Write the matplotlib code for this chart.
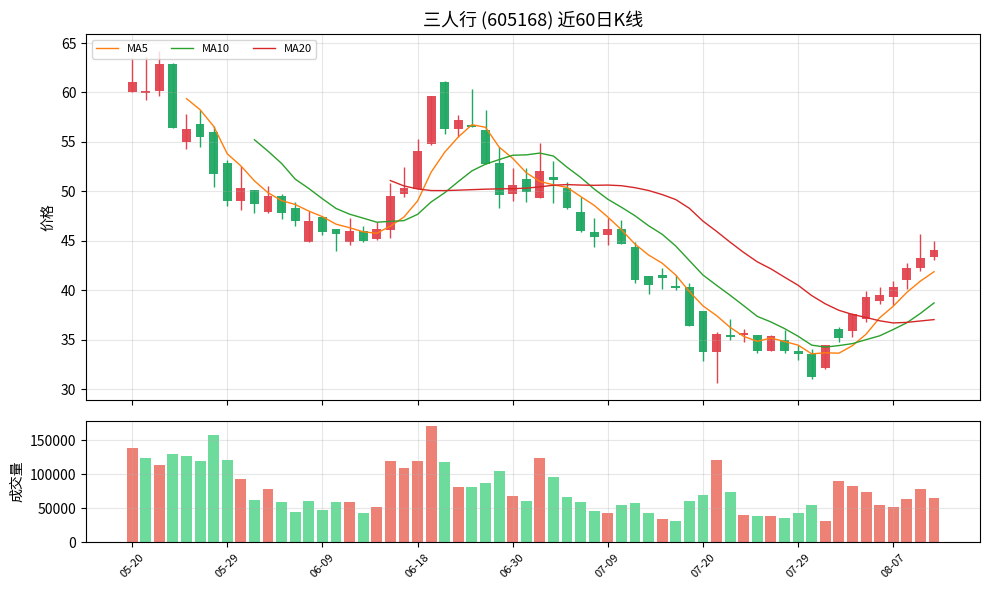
import matplotlib
matplotlib.use("Agg")
import matplotlib.pyplot as plt
import numpy as np
import pandas as pd

plt.rcParams['font.family'] = ['Noto Sans CJK SC', 'DejaVu Sans']
plt.rcParams['axes.unicode_minus'] = False

# K线数据 (近60个交易日)
dates = ['05-20', '05-21', '05-22', '05-23', '05-26', '05-27', '05-28', '05-29',
         '05-30', '06-02', '06-03', '06-04', '06-05', '06-06', '06-09',
         '06-10', '06-11', '06-12', '06-13', '06-16', '06-17', '06-18',
         '06-19', '06-20', '06-23', '06-24', '06-25', '06-26', '06-30',
         '07-01', '07-02', '07-03', '07-04', '07-07', '07-08', '07-09',
         '07-10', '07-11', '07-14', '07-15', '07-16', '07-17', '07-20',
         '07-21', '07-22', '07-23', '07-24', '07-25', '07-28', '07-29',
         '07-30', '07-31', '08-01', '08-04', '08-05', '08-06', '08-07',
         '08-08', '08-11', '08-12']

opens = [60.0, 59.9, 60.2, 62.9, 55.0, 56.8, 56.0, 52.9, 49.0, 50.1,
         47.9, 49.5, 48.3, 44.9, 47.4, 46.2, 44.9, 46.0, 45.2, 46.1,
         49.7, 50.2, 54.8, 61.1, 56.3, 56.7, 56.2, 52.9, 49.7, 51.2,
         49.3, 51.5, 50.3, 47.9, 45.9, 45.6, 46.2, 44.4, 41.4, 41.5,
         40.4, 40.3, 37.9, 33.7, 35.45, 35.43, 35.5, 33.9, 35.0, 33.85,
         33.5, 32.1, 36.1, 35.9, 37.1, 38.9, 39.3, 41.0, 42.2, 43.4]
highs = [63.5, 63.6, 64.2, 63.0, 57.8, 58.2, 56.6, 53.2, 52.6, 50.1,
         50.5, 49.7, 48.9, 48.0, 47.5, 46.2, 47.3, 46.5, 46.9, 50.8,
         52.5, 55.3, 59.6, 61.2, 57.7, 60.4, 58.2, 54.5, 52.4, 52.4,
         54.9, 53.1, 50.9, 49.4, 47.3, 47.3, 47.1, 44.9, 41.4, 42.2,
         41.5, 40.7, 37.9, 35.8, 37.1, 36.1, 35.5, 35.5, 36.0, 34.45,
         34.1, 34.5, 36.3, 37.7, 39.9, 40.3, 40.9, 42.8, 45.7, 45.0]
lows = [60.0, 59.2, 59.6, 56.4, 54.3, 54.5, 50.4, 48.5, 48.1, 47.8,
        47.8, 47.2, 46.5, 44.9, 45.6, 44.0, 44.6, 44.9, 45.1, 45.3,
        49.4, 50.2, 54.7, 55.8, 55.5, 56.5, 52.8, 48.3, 49.0, 48.9,
        49.3, 48.8, 48.2, 45.9, 44.4, 44.6, 44.7, 40.7, 39.6, 40.15,
        40.0, 36.4, 32.8, 30.6, 34.96, 34.8, 33.6, 33.9, 33.6, 32.9,
        31.05, 32.05, 34.8, 35.3, 36.8, 38.6, 38.5, 40.15, 41.9, 43.1]
closes = [61.1, 60.2, 62.9, 56.4, 56.3, 55.5, 51.8, 49.0, 50.3, 48.7,
          49.5, 47.8, 47.05, 46.95, 45.9, 45.7, 46.0, 45.0, 46.2, 49.5,
          50.3, 54.1, 59.6, 56.3, 57.2, 56.5, 52.8, 49.6, 50.6, 49.9,
          52.1, 51.1, 48.3, 46.0, 45.4, 46.2, 44.7, 41.0, 40.5, 41.25,
          40.2, 36.4, 33.7, 35.6, 35.3, 35.63, 33.9, 35.4, 33.8, 33.5,
          31.2, 34.45, 35.2, 37.6, 39.3, 39.5, 40.3, 42.2, 43.3, 44.05]
volumes = [138200, 123500, 113200, 129400, 126500, 119100, 157400, 120600, 92600, 61800,
           77900, 58800, 44100, 60300, 47100, 58800, 58800, 42600, 51500, 119100,
           108800, 119100, 170600, 117600, 80900, 80900, 86800, 104400, 67600, 60300,
           123500, 95600, 66200, 58800, 45600, 42600, 54400, 57400, 42600, 33800,
           30900, 60300, 69100, 120600, 73500, 39700, 38200, 38200, 35300, 42600,
           54400, 30900, 89700, 82400, 73500, 54400, 51500, 63200, 77900, 64700]

df = pd.DataFrame({'open': opens, 'high': highs, 'low': lows,
                   'close': closes, 'volume': volumes})
x = np.arange(len(df))

up_color = '#e2444f'
down_color = '#1fa862'

fig = plt.figure(figsize=(9.89, 5.89), dpi=100)
ax1 = fig.add_axes([0.087, 0.321, 0.904, 0.621])
ax2 = fig.add_axes([0.087, 0.0793, 0.904, 0.2065], sharex=ax1)

# 蜡烛图
is_up = df['close'] >= df['open']
candle_colors = np.where(is_up, up_color, down_color)
ax1.vlines(x, df['low'], df['high'], colors=candle_colors, linewidth=1)
body = (df['close'] - df['open']).abs().clip(lower=0.12)
ax1.bar(x, body, bottom=df[['open', 'close']].min(axis=1), width=0.65,
        color=candle_colors, alpha=0.95, linewidth=0)

# 均线
ma5 = df['close'].rolling(5).mean()
ma10 = df['close'].rolling(10).mean()
ma20 = df['close'].rolling(20).mean()
ax1.plot(x, ma5, color='#ff7f0e', linewidth=1, label='MA5')
ax1.plot(x, ma10, color='#2ca02c', linewidth=1, label='MA10')
ax1.plot(x, ma20, color='#d62728', linewidth=1, label='MA20')

ax1.set_ylim(28.9, 65.9)
ax1.set_ylabel('价格', fontsize=10)
ax1.set_title('三人行 (605168) 近60日K线', fontsize=13)
ax1.legend(loc='upper left', ncol=3, fontsize=8)
ax1.grid(True, alpha=0.3)
ax1.tick_params(labelbottom=False)

# 成交量
prev_close = df['close'].shift(1).fillna(df['open'])
vol_colors = np.where(df['close'] > prev_close, '#e74c3c', '#2ecc71')
ax2.bar(x, df['volume'], width=0.8, color=vol_colors, alpha=0.7)
ax2.set_ylabel('成交量', fontsize=10)
ax2.ticklabel_format(style='plain', axis='y')
ax2.grid(True, alpha=0.3)

tick_pos = list(range(0, len(df), 7))
ax2.set_xticks(tick_pos)
ax2.set_xticklabels([dates[i] for i in tick_pos], rotation=45, fontsize=8)

plt.savefig('out.png', dpi=100)
